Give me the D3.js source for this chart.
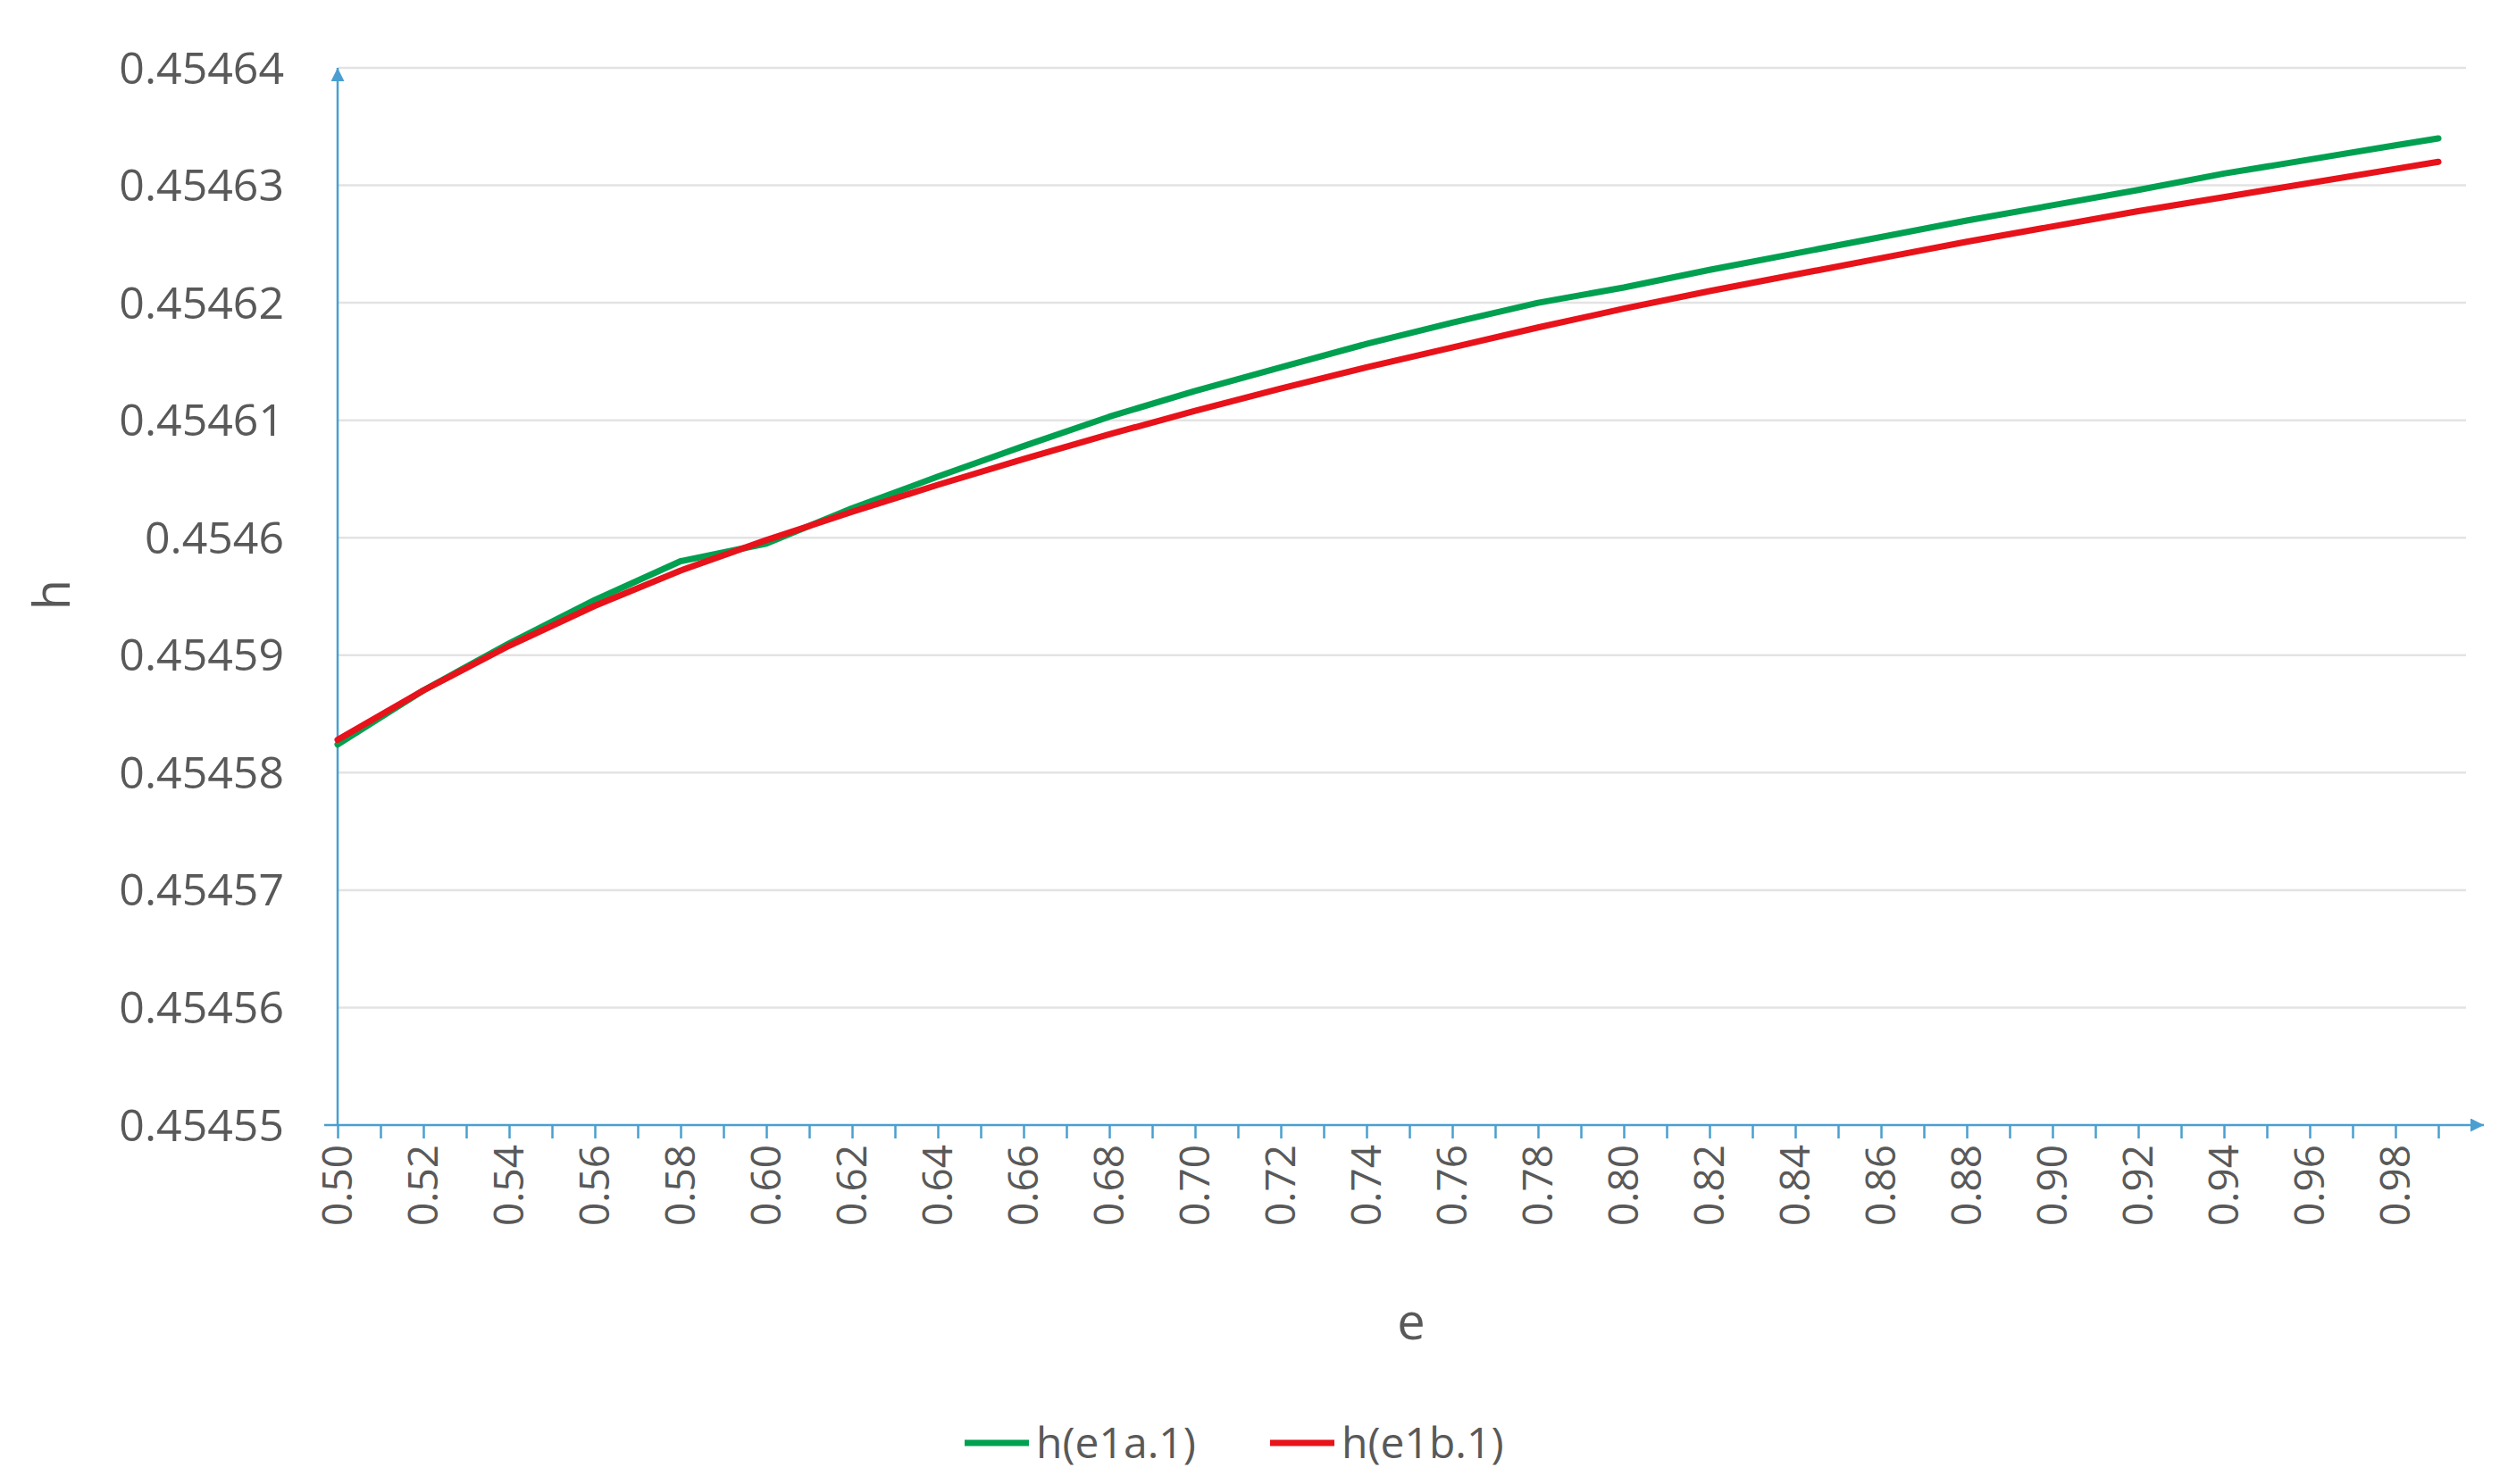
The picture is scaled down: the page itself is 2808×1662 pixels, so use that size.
<!DOCTYPE html>
<html>
<head>
<meta charset="utf-8">
<script src="https://cdn.jsdelivr.net/npm/d3@7"></script>
<style>
  body { margin: 0; background: #fff; }
  text { font-family: "Open Sans", sans-serif; fill: #595959; }
</style>
</head>
<body>
<script>
// e values and h series
const eValues = [0.50,0.52,0.54,0.56,0.58,0.60,0.62,0.64,0.66,0.68,0.70,0.72,0.74,0.76,0.78,0.80,0.82,0.84,0.86,0.88,0.90,0.92,0.94,0.96,0.98,0.99];
// offsets in units of 1e-5 above 0.45455
const hA = [3.24,3.70,4.10,4.47,4.80,4.95,5.25,5.52,5.78,6.03,6.25,6.45,6.65,6.83,7.00,7.13,7.28,7.42,7.56,7.70,7.83,7.96,8.10,8.22,8.34,8.40];
const hB = [3.28,3.70,4.08,4.42,4.72,4.98,5.22,5.45,5.67,5.88,6.08,6.27,6.45,6.62,6.79,6.95,7.10,7.24,7.38,7.52,7.65,7.78,7.90,8.02,8.14,8.20];
const yTicks = [0.45455,0.45456,0.45457,0.45458,0.45459,0.4546,0.45461,0.45462,0.45463,0.45464];
const series = [
  { name: "h(e1a.1)", color: "#00a050", values: hA },
  { name: "h(e1b.1)", color: "#e8121a", values: hB }
];

const W = 2808, H = 1662;
const plotLeft = 378, plotTop = 76, plotBottom = 1260, plotRight = 2781;

const svg = d3.select("body").append("svg").attr("width", W).attr("height", H);

const x = d3.scaleLinear().domain([0.50, 0.99]).range([plotLeft, plotLeft + 49 * 48]);
const y = d3.scaleLinear().domain([0.45455, 0.45464]).range([plotBottom, plotTop]);

// gridlines
svg.append("g").selectAll("line").data(yTicks.slice(1)).enter().append("line")
  .attr("x1", plotLeft).attr("x2", plotRight - 20)
  .attr("y1", d => y(d)).attr("y2", d => y(d))
  .attr("stroke", "#e3e3e3").attr("stroke-width", 2.5);

// y labels
svg.append("g").selectAll("text").data(yTicks).enter().append("text")
  .attr("x", 318).attr("y", d => y(d)).attr("dy", "0.35em")
  .attr("text-anchor", "end").style("font-size", "50px")
  .text(d => String(d));

// x axis
const axisColor = "#4a9fd0";
const xAxis = svg.append("g").attr("transform", `translate(0,${plotBottom})`)
  .call(d3.axisBottom(x).tickValues(d3.range(50).map(i => 0.50 + i * 0.01)).tickSize(15).tickFormat(""));
xAxis.select(".domain").remove();
xAxis.selectAll("line").attr("stroke", axisColor).attr("stroke-width", 2.5);

svg.append("g").selectAll("text").data(d3.range(25).map(i => 0.50 + i * 0.02)).enter().append("text")
  .attr("transform", d => `translate(${x(d)},${plotBottom + 22}) rotate(-90)`)
  .attr("dy", "0.35em").attr("text-anchor", "end").style("font-size", "46px")
  .text(d => d.toFixed(2));

svg.append("defs").append("marker").attr("id", "arr").attr("viewBox", "0 0 10 10")
  .attr("refX", 10).attr("refY", 5).attr("markerWidth", 6).attr("markerHeight", 6)
  .attr("orient", "auto").append("path").attr("d", "M0,0L10,5L0,10Z").attr("fill", axisColor);

svg.append("line").attr("x1", plotLeft - 15).attr("x2", plotRight).attr("y1", plotBottom).attr("y2", plotBottom)
  .attr("stroke", axisColor).attr("stroke-width", 2.5).attr("marker-end", "url(#arr)");
svg.append("line").attr("x1", plotLeft).attr("x2", plotLeft).attr("y1", plotBottom).attr("y2", plotTop)
  .attr("stroke", axisColor).attr("stroke-width", 2.5).attr("marker-end", "url(#arr)");

// lines
const line = d3.line().x((d, i) => x(eValues[i])).y(d => y(0.45455 + d * 1e-5));
series.forEach(s => {
  svg.append("path").datum(s.values).attr("d", line)
    .attr("fill", "none").attr("stroke", s.color).attr("stroke-width", 7)
    .attr("stroke-linecap", "round").attr("stroke-linejoin", "round");
});

// axis titles
svg.append("text").attr("transform", "translate(78,666) rotate(-90)")
  .attr("text-anchor", "middle").style("font-size", "56px").text("h");
svg.append("text").attr("x", 1580).attr("y", 1500)
  .attr("text-anchor", "middle").style("font-size", "56px").text("e");

// legend
const legX = [1080, 1422];
series.forEach((s, i) => {
  svg.append("line").attr("x1", legX[i]).attr("x2", legX[i] + 72)
    .attr("y1", 1616).attr("y2", 1616).attr("stroke", s.color).attr("stroke-width", 7);
  svg.append("text").attr("x", legX[i] + 80).attr("y", 1616).attr("dy", "0.35em")
    .style("font-size", "48px").text(s.name);
});
</script>
</body>
</html>
